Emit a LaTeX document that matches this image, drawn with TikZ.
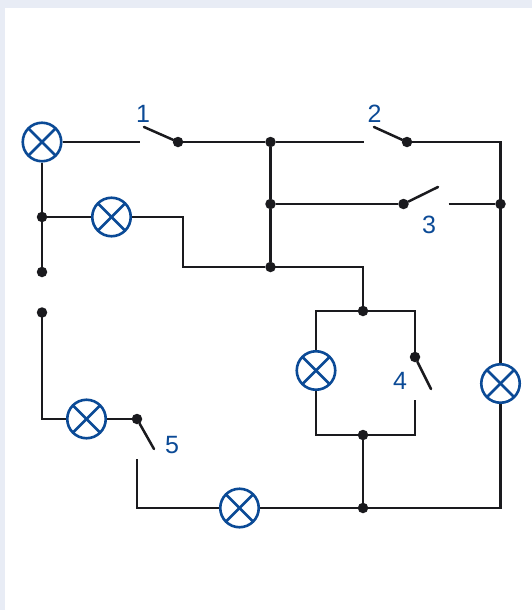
\documentclass[tikz,border=0pt]{standalone}
\usepackage{fontspec}
\setmainfont{Liberation Sans}
\usepackage{tikz}
\usetikzlibrary{positioning}
\definecolor{lampblue}{HTML}{0B4A96}
\definecolor{wireblack}{HTML}{1A1A1E}
\definecolor{pagetint}{HTML}{E8ECF5}
\tikzset{
    wire/.style={draw=wireblack, line width=2.5pt},
    blade/.style={wire, line cap=round},
    junction/.style={circle, fill=wireblack, inner sep=0pt, minimum size=10.5pt},
    lamp/.style={circle, draw=lampblue, line width=2.6pt, fill=white, inner sep=0pt, minimum size=38.5pt,
        path picture={
            \draw [lampblue, line width=2.6pt] (path picture bounding box.north west)--(path picture bounding box.south east);
            \draw [lampblue, line width=2.6pt] (path picture bounding box.north east)--(path picture bounding box.south west);
        }},
    number/.style={text=lampblue, font=\fontsize{25}{25}\selectfont, inner sep=0pt}
}

\begin{document}
\begin{tikzpicture}[x=1pt, y=-1pt]
    \fill [pagetint] (0,0) rectangle (532,610);
    \fill [white] (5,8) rectangle (532,610);
    \useasboundingbox (0,0) rectangle (532,610);
    % junctions and switch pivots
    \foreach \name/\pos in {pivotA/{178,142}, topA/{270.5,142}, midA/{270.5,204}, lowA/{270.5,267},
        pivotB/{407,142}, pivotC/{403.5,204}, midB/{500.5,204}, upperD/{363,311}, pivotD/{415,357},
        lowerD/{363,435}, bottomD/{363,508}, leftA/{42,217}, openA/{42,272}, openB/{42,312.5}, pivotE/{137,419}}
        \node [junction] (\name) at (\pos) {};
    % free ends of the wires and blades
    \foreach \name/\pos in {contactA/{140,142}, tipA/{144,127}, contactB/{364,142}, tipB/{374,127},
        tipC/{438,187}, contactC/{448.5,204}, tipD/{431,389}, contactD/{415,400},
        tipE/{154,449}, contactE/{137,459}, bendA/{183,217}}
        \coordinate (\name) at (\pos);
    % lamps
    \node [lamp] (lampA) at (42,142) {};
    \node [lamp] (lampB) at (111.5,217) {};
    \node [lamp] (lampC) at (86.5,419) {};
    \node [lamp] (lampD) at (239.5,508) {};
    \node [lamp] (lampE) at (316,370.5) {};
    \node [lamp] (lampF) at (500.5,383.5) {};
    % wires
    \draw [wire] (lampA)--(contactA);
    \draw [wire] (pivotA)--(topA)--(contactB);
    \draw [wire] (pivotB.center)-|(midB.center)--(lampF);
    \draw [wire] (topA)--(midA)--(lowA);
    \draw [wire] (midA)--(pivotC);
    \draw [wire] (contactC)--(midB);
    \draw [wire] (lampA)--(leftA)--(openA);
    \draw [wire] (leftA)--(lampB);
    \draw [wire] (lampB)--(bendA)|-(lowA);
    \draw [wire] (lowA.center)-|(upperD.center);
    \draw [wire] (lampE.north)|-(upperD.center)-|(pivotD.center);
    \draw [wire] (lampE.south)|-(lowerD.center)-|(contactD);
    \draw [wire] (lowerD)--(bottomD);
    \draw [wire] (lampD)--(bottomD.center)-|(lampF.south);
    \draw [wire] (openB.center)|-(lampC.west);
    \draw [wire] (lampC)--(pivotE);
    \draw [wire] (contactE)|-(lampD.west);
    % switch blades
    \draw [blade] (tipA)--(pivotA);
    \draw [blade] (tipB)--(pivotB);
    \draw [blade] (pivotC)--(tipC);
    \draw [blade] (pivotD)--(tipD);
    \draw [blade] (pivotE)--(tipE);
    % switch numbers
    \node [number] (numA) at (143,113.5) {1};
    \node [number] (numB) at (374.5,113.5) {2};
    \node [number] (numC) at (429,224.5) {3};
    \node [number] (numD) at (400,380.5) {4};
    \node [number] (numE) at (172,445) {5};
\end{tikzpicture}
\end{document}
